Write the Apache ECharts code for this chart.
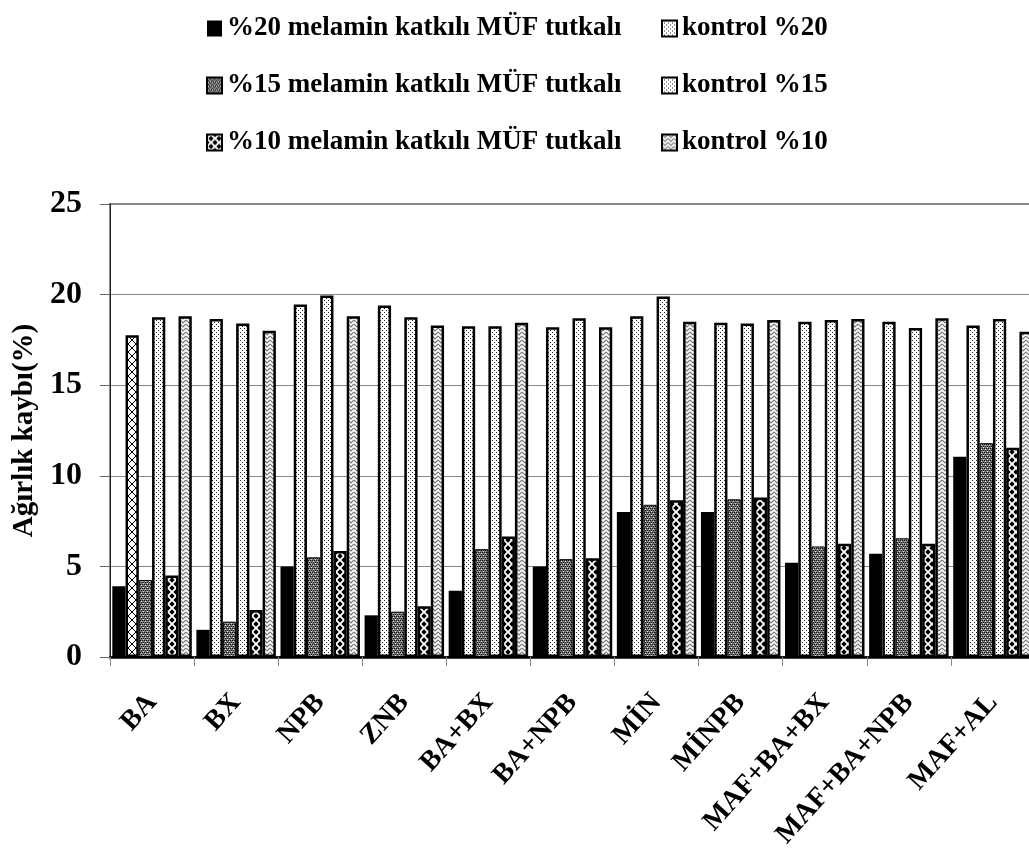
<!DOCTYPE html>
<html>
<head>
<meta charset="utf-8">
<script src="https://cdn.jsdelivr.net/npm/echarts@6/dist/echarts.min.js"></script>
<style>
  html, body { margin: 0; padding: 0; background: #fff; }
  #chart { width: 1029px; height: 852px; }
</style>
</head>
<body>
<div id="chart"></div>
<script>
// Weight loss (%) per treatment, for three melamine levels and their controls
var categories = ['BA', 'BX', 'NPB', 'ZNB', 'BA+BX', 'BA+NPB', 'MİN', 'MİNPB', 'MAF+BA+BX', 'MAF+BA+NPB', 'MAF+AL'];

var seriesNames = [
  '%20 melamin katkılı MÜF tutkalı',
  'kontrol %20',
  '%15 melamin katkılı MÜF tutkalı',
  'kontrol %15',
  '%10 melamin katkılı MÜF tutkalı',
  'kontrol %10'
];

var melamin20 = [3.9, 1.5, 5.0, 2.3, 3.65, 5.0, 8.0, 8.0, 5.2, 5.7, 11.05];
var kontrol20 = [17.75, 18.65, 19.45, 19.4, 18.25, 18.2, 18.8, 18.45, 18.5, 18.5, 18.3];
var melamin15 = [4.25, 1.95, 5.5, 2.5, 5.95, 5.4, 8.4, 8.7, 6.1, 6.55, 11.8];
var kontrol15 = [18.75, 18.4, 19.95, 18.75, 18.25, 18.7, 19.9, 18.4, 18.6, 18.15, 18.65];
var melamin10 = [4.5, 2.6, 5.85, 2.8, 6.65, 5.45, 8.65, 8.8, 6.25, 6.25, 11.55];
var kontrol10 = [18.8, 18.0, 18.8, 18.3, 18.45, 18.2, 18.5, 18.6, 18.65, 18.7, 17.95];

var yTicks = { min: 0, max: 25, interval: 5 };

// ---- fill patterns, painted on small tiles ----
function tile(w, h, paint) {
  var c = document.createElement('canvas');
  c.width = w; c.height = h;
  var ctx = c.getContext('2d');
  ctx.fillStyle = '#fff';
  ctx.fillRect(0, 0, w, h);
  paint(ctx);
  return { image: c, repeat: 'repeat' };
}

// fine dot screen
var dotFill = tile(4, 4, function (ctx) {
  ctx.fillStyle = '#222';
  ctx.fillRect(0, 0, 1, 1);
  ctx.fillRect(2, 2, 1, 1);
});

// diagonal lattice
var crossFill = tile(8, 8, function (ctx) {
  ctx.strokeStyle = '#000';
  ctx.lineWidth = 1;
  ctx.beginPath();
  ctx.moveTo(0, 0); ctx.lineTo(8, 8);
  ctx.moveTo(8, 0); ctx.lineTo(0, 8);
  ctx.stroke();
});

// dark checkered screen
var checkFill = tile(4, 4, function (ctx) {
  ctx.fillStyle = '#777';
  ctx.fillRect(0, 0, 4, 4);
  ctx.fillStyle = '#111';
  ctx.fillRect(0, 0, 1, 1); ctx.fillRect(2, 0, 1, 1);
  ctx.fillRect(1, 2, 1, 1); ctx.fillRect(3, 2, 1, 1);
  ctx.fillStyle = '#ddd';
  ctx.fillRect(1, 1, 1, 1); ctx.fillRect(3, 3, 1, 1);
});

// black diamonds on white
var diamondFill = tile(8, 8, function (ctx) {
  ctx.fillStyle = '#000';
  function d(cx, cy) {
    ctx.beginPath();
    ctx.moveTo(cx, cy - 2.7); ctx.lineTo(cx + 2.7, cy);
    ctx.lineTo(cx, cy + 2.7); ctx.lineTo(cx - 2.7, cy);
    ctx.closePath(); ctx.fill();
  }
  d(4, 4); d(0, 0); d(8, 0); d(0, 8); d(8, 8);
});

// grey zigzag
var zigFill = tile(6, 4, function (ctx) {
  ctx.strokeStyle = '#777';
  ctx.lineWidth = 1.2;
  ctx.beginPath();
  ctx.moveTo(0, 0); ctx.lineTo(3, 3); ctx.lineTo(6, 0);
  ctx.moveTo(0, 4); ctx.lineTo(3, 7); ctx.lineTo(6, 4);
  ctx.moveTo(0, -4); ctx.lineTo(3, -1); ctx.lineTo(6, -4);
  ctx.stroke();
});

var FONT = 'Liberation Serif';

function barSeries(name, values, style) {
  return {
    name: name,
    type: 'bar',
    data: values.slice(),
    itemStyle: style,
    barGap: '0%',
    barCategoryGap: '5.5%',
    emphasis: { disabled: true },
    animation: false
  };
}

var edge = { borderColor: '#000', borderWidth: 2.5 };
function withEdge(fill) {
  return { color: fill, borderColor: edge.borderColor, borderWidth: edge.borderWidth };
}

var s20 = barSeries(seriesNames[0], melamin20, { color: '#000' });
var k20 = barSeries(seriesNames[1], kontrol20, withEdge(dotFill));
// first group's control bar carries the lattice fill
k20.data[0] = { value: kontrol20[0], itemStyle: withEdge(crossFill) };
var s15 = barSeries(seriesNames[2], melamin15, { color: checkFill, borderColor: '#000', borderWidth: 1 });
var k15 = barSeries(seriesNames[3], kontrol15, withEdge(dotFill));
var s10 = barSeries(seriesNames[4], melamin10, withEdge(diamondFill));
var k10 = barSeries(seriesNames[5], kontrol10, withEdge(zigFill));

var legendText = { fontFamily: FONT, fontWeight: 'bold', fontSize: 27, color: '#000' };

var option = {
  backgroundColor: '#fff',
  animation: false,
  legend: [
    {
      orient: 'vertical', left: 201, top: 10, itemGap: 30,
      itemWidth: 15, itemHeight: 16, icon: 'rect',
      textStyle: legendText, selectedMode: false,
      data: [seriesNames[0], seriesNames[2], seriesNames[4]]
    },
    {
      orient: 'vertical', left: 656, top: 10, itemGap: 30,
      itemWidth: 15, itemHeight: 16, icon: 'rect',
      textStyle: legendText, selectedMode: false,
      data: [seriesNames[1], seriesNames[3], seriesNames[5]]
    }
  ],
  grid: {
    left: 110, top: 204, right: -6, bottom: 195,
    show: true, borderColor: '#888', borderWidth: 2,
    containLabel: false, outerBoundsMode: 'none'
  },
  xAxis: {
    type: 'category',
    data: categories,
    boundaryGap: true,
    axisLine: { show: true, lineStyle: { color: '#000', width: 2.5 } },
    axisTick: { show: true, interval: 0, length: 9, lineStyle: { color: '#888', width: 1 } },
    axisLabel: {
      interval: 0, rotate: 48, margin: 41,
      fontFamily: FONT, fontWeight: 'bold', fontSize: 28, color: '#000'
    },
    splitLine: { show: false }
  },
  yAxis: {
    type: 'value',
    min: yTicks.min, max: yTicks.max, interval: yTicks.interval,
    name: 'Ağırlık kaybı(%)',
    nameLocation: 'middle',
    nameGap: 70,
    nameTextStyle: { fontFamily: FONT, fontWeight: 'bold', fontSize: 29, color: '#000' },
    axisLine: { show: true, lineStyle: { color: '#222', width: 1 } },
    axisTick: { show: true, length: 10, lineStyle: { color: '#666', width: 1 } },
    axisLabel: { margin: 28, fontFamily: FONT, fontWeight: 'bold', fontSize: 32, color: '#000' },
    splitLine: { show: true, lineStyle: { color: '#888', width: 1 } }
  },
  series: [s20, k20, s15, k15, s10, k10]
};

var chart = echarts.init(document.getElementById('chart'), null, { renderer: 'canvas', devicePixelRatio: 1 });
chart.setOption(option);
</script>
</body>
</html>
